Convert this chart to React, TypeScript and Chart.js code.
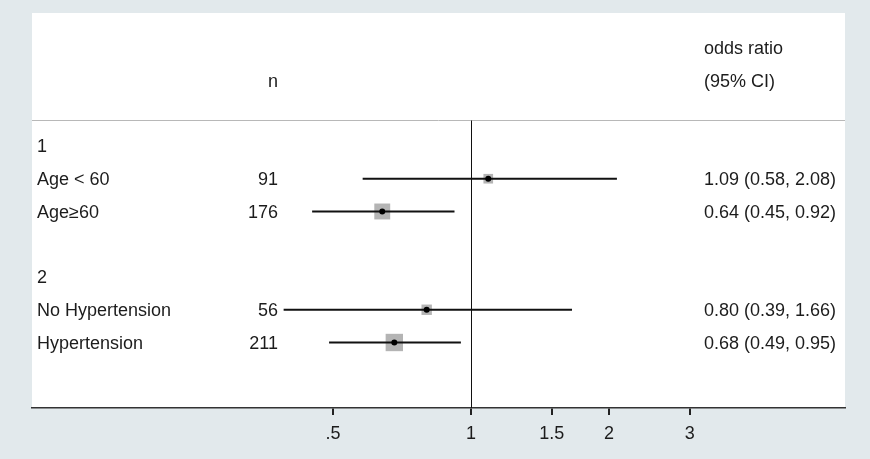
import React, { useEffect, useRef } from "react";
import { Chart, registerables } from "chart.js";

Chart.register(...registerables);

// ---- data ----
const groupLabels = ["1", "2"];
const groupRows = [0, 4];
const rowLabels = ["Age < 60", "Age≥60", "No Hypertension", "Hypertension"];
const rowPositions = [1, 2, 5, 6];
const nValues = [91, 176, 56, 211];
const oddsRatios = [1.09, 0.64, 0.8, 0.68];
const ciLower = [0.58, 0.45, 0.39, 0.49];
const ciUpper = [2.08, 0.92, 1.66, 0.95];
const weights = [12.3, 33.5, 14.3, 39.9];
const tickValues = [0.5, 1, 1.5, 2, 3];
const tickLabels = [".5", "1", "1.5", "2", "3"];
const headerN = "n";
const headerOR = ["odds ratio", "(95% CI)"];

// ---- layout / style ----
const FONT_FAMILY = "'Liberation Sans', Arial, sans-serif";
const FONT_SIZE = 18;
const TEXT_COLOR = "#1c1c1c";
const OUTER_BG = "#e2e9ec";
const TEXT_DY = 1.5;

const forestPlugin = {
  id: "forestText",
  beforeDraw(chart: any) {
    const { ctx, chartArea: a } = chart;
    ctx.save();
    ctx.fillStyle = OUTER_BG;
    ctx.fillRect(0, 0, chart.width, chart.height);
    ctx.fillStyle = "#ffffff";
    ctx.fillRect(a.left, a.top, a.right - a.left, a.bottom - a.top);
    ctx.restore();
  },
  beforeDatasetsDraw(chart: any) {
    const { ctx, chartArea: a, scales } = chart;
    const sepY = Math.round(scales.y.getPixelForValue(-0.8)) + 0.5;
    ctx.save();
    ctx.strokeStyle = "#b8b8b8";
    ctx.lineWidth = 1;
    ctx.beginPath();
    ctx.moveTo(a.left, sepY);
    ctx.lineTo(a.right, sepY);
    ctx.stroke();
    const x1 = Math.round(scales.x.getPixelForValue(1)) + 0.5;
    ctx.strokeStyle = "#111";
    ctx.beginPath();
    ctx.moveTo(x1, sepY);
    ctx.lineTo(x1, a.bottom);
    ctx.stroke();
    ctx.restore();
  },
  afterDatasetsDraw(chart: any) {
    const { ctx, chartArea: a, scales } = chart;
    const yp = (r: number) => scales.y.getPixelForValue(r) + TEXT_DY;
    const labelX = a.left + 5;
    const nX = a.left + 246;
    const orX = a.left + 672;
    ctx.save();
    ctx.font = `${FONT_SIZE}px ${FONT_FAMILY}`;
    ctx.fillStyle = TEXT_COLOR;
    ctx.textBaseline = "middle";
    // headers
    ctx.textAlign = "right";
    ctx.fillText(headerN, nX, yp(-2));
    ctx.textAlign = "left";
    ctx.fillText(headerOR[0], orX, yp(-3));
    ctx.fillText(headerOR[1], orX, yp(-2));
    // groups
    groupLabels.forEach((g, i) => ctx.fillText(g, labelX, yp(groupRows[i])));
    // rows
    rowLabels.forEach((lab, i) => {
      const y = yp(rowPositions[i]);
      ctx.textAlign = "left";
      ctx.fillText(lab, labelX, y);
      ctx.textAlign = "right";
      ctx.fillText(String(nValues[i]), nX, y);
      ctx.textAlign = "left";
      ctx.fillText(
        `${oddsRatios[i].toFixed(2)} (${ciLower[i].toFixed(2)}, ${ciUpper[i].toFixed(2)})`,
        orX,
        y
      );
    });
    ctx.restore();
  },
};

export default function App() {
  const ref = useRef<HTMLCanvasElement | null>(null);

  useEffect(() => {
    document.body.style.margin = "0";
    const canvas = ref.current;
    if (!canvas) return;

    const squares = {
      label: "weight",
      data: oddsRatios.map((v, i) => ({ x: v, y: rowPositions[i] })),
      pointStyle: "rect",
      pointRadius: weights.map((w) => (Math.sqrt(w) * 2.75) / Math.SQRT2),
      backgroundColor: "#b4b4b4",
      borderWidth: 0,
      order: 3,
    };
    const ciLines = oddsRatios.map((_, i) => ({
      label: "ci" + i,
      data: [
        { x: ciLower[i], y: rowPositions[i] },
        { x: ciUpper[i], y: rowPositions[i] },
      ],
      showLine: true,
      borderColor: "#111",
      borderWidth: 2,
      pointRadius: 0,
      order: 2,
    }));
    const dots = {
      label: "estimate",
      data: oddsRatios.map((v, i) => ({ x: v, y: rowPositions[i] })),
      pointStyle: "circle",
      pointRadius: 3,
      backgroundColor: "#000",
      borderWidth: 0,
      order: 1,
    };

    const chart = new Chart(canvas, {
      type: "scatter",
      data: { datasets: [dots, ...ciLines, squares] as any },
      options: {
        animation: false,
        responsive: false,
        events: [],
        layout: { padding: { left: 32, right: 25, top: 13, bottom: 0 } },
        plugins: { legend: { display: false }, tooltip: { enabled: false } },
        scales: {
          x: {
            type: "logarithmic",
            position: "bottom",
            min: 0.1102,
            max: 6.54,
            afterBuildTicks: (s: any) => {
              s.ticks = tickValues.map((v) => ({ value: v }));
            },
            afterFit: (s: any) => {
              s.height = 51;
            },
            ticks: {
              autoSkip: false,
              maxRotation: 0,
              padding: 8,
              color: TEXT_COLOR,
              font: { family: FONT_FAMILY, size: FONT_SIZE },
              callback: (_v: any, i: number) => tickLabels[i],
            },
            grid: {
              drawOnChartArea: false,
              drawTicks: true,
              tickLength: 7,
              color: "#222",
              lineWidth: 2,
            },
            border: { display: true, color: "#333", width: 1.5 },
          },
          y: {
            type: "linear",
            reverse: true,
            min: -4.06,
            max: 8,
            display: false,
          },
        },
      } as any,
      plugins: [forestPlugin],
    });
    return () => chart.destroy();
  }, []);

  return <canvas ref={ref} width={870} height={459} style={{ display: "block" }} />;
}
